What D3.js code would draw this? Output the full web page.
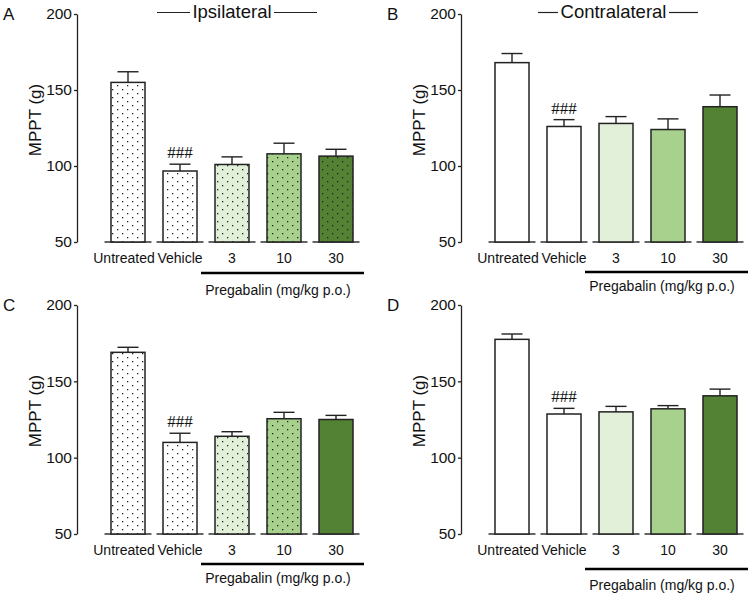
<!DOCTYPE html>
<html>
<head>
<meta charset="utf-8">
<script src="https://cdn.jsdelivr.net/npm/d3@7"></script>
<style>
  body { margin: 0; background: #fff; }
  text { font-family: Arial, "Liberation Sans", sans-serif; fill: #111; }
</style>
</head>
<body>
<div id="chart"></div>
<script>
// groups and tick labels
var groups = ["Untreated", "Vehicle", "3", "10", "30"];
var yTicks = [50, 100, 150, 200];
var barColors = ["#ffffff", "#ffffff", "#e2f0d9", "#a9d18e", "#548235"];

// mean and SEM per panel
var meanA = [155, 96.7, 101, 108, 106.5];
var semA  = [7, 4.5, 5, 7, 4.5];
var meanB = [168, 126, 128, 124, 139];
var semB  = [6, 4.5, 4.5, 7, 7.7];
var meanC = [169, 110, 114, 125.5, 125];
var semC  = [3.3, 6, 3, 4.2, 2.7];
var meanD = [177.5, 128.6, 130, 132, 140.5];
var semD  = [3.5, 3.7, 3.6, 2.1, 4.4];

// which bars are dotted in each panel
var dotsA = [true, true, true, true, true];
var dotsB = [false, false, false, false, false];
var dotsC = [true, true, true, true, false];
var dotsD = [false, false, false, false, false];

var svg = d3.select("#chart")
  .append("svg")
  .attr("width", 750)
  .attr("height", 595);

// dot pattern
var pat = svg.append("defs").append("pattern")
  .attr("id", "dots")
  .attr("patternUnits", "userSpaceOnUse")
  .attr("width", 10)
  .attr("height", 8);
pat.append("rect").attr("x", 2).attr("y", 1).attr("width", 1.3).attr("height", 1.3).attr("fill", "#222");
pat.append("rect").attr("x", 7).attr("y", 5).attr("width", 1.3).attr("height", 1.3).attr("fill", "#222");

var panels = [
  {letter: "A", ox: 77,  top: 14,  bottom: 242, mean: meanA, sem: semA, dots: dotsA,
   title: "Ipsilateral", tx: 232, l1: [157, 190], l2: [274, 317], lineY: 273, textY: 295},
  {letter: "B", ox: 461, top: 14,  bottom: 242, mean: meanB, sem: semB, dots: dotsB,
   title: "Contralateral", tx: 613.5, l1: [538, 558], l2: [669, 698], lineY: 272, textY: 291},
  {letter: "C", ox: 77,  top: 305, bottom: 534, mean: meanC, sem: semC, dots: dotsC,
   lineY: 564, textY: 583},
  {letter: "D", ox: 461, top: 305, bottom: 534, mean: meanD, sem: semD, dots: dotsD,
   lineY: 569, textY: 590}
];

panels.forEach(function(p) {
  var g = svg.append("g");

  var y = d3.scaleLinear().domain([50, 200]).range([p.bottom, p.top]);
  var x = d3.scaleBand().domain(groups).range([p.ox + 25, p.ox + 285]).paddingInner(0);
  var barW = 34, segW = 47, capW = 21;

  // y axis
  var yAxis = d3.axisLeft(y).tickValues(yTicks).tickSize(3).tickSizeOuter(0).tickPadding(2);
  var ax = g.append("g").attr("transform", "translate(" + p.ox + ",0)").call(yAxis);
  ax.select(".domain").attr("stroke", "#222").attr("stroke-width", 1.3);
  ax.selectAll(".tick line").attr("stroke", "#222").attr("stroke-width", 1.3);
  ax.selectAll(".tick text")
    .style("font-size", "15.5px")
    .style("font-family", "Arial, 'Liberation Sans', sans-serif")
    .attr("fill", "#111");

  // y label
  g.append("text")
    .attr("transform", "translate(" + (p.ox - 36) + "," + (p.top + 106) + ") rotate(-90)")
    .attr("text-anchor", "middle")
    .style("font-size", "17px")
    .text("MPPT (g)");

  // panel letter
  g.append("text")
    .attr("x", p.ox - 74)
    .attr("y", p.top + 6)
    .style("font-size", "17px")
    .text(p.letter);

  var data = groups.map(function(k, i) {
    return {key: k, mean: p.mean[i], sem: p.sem[i], color: barColors[i], dots: p.dots[i]};
  });

  // baseline segments under each bar
  g.selectAll(".seg").data(data).enter().append("line")
    .attr("x1", function(d) { return x(d.key) + x.bandwidth() / 2 - segW / 2; })
    .attr("x2", function(d) { return x(d.key) + x.bandwidth() / 2 + segW / 2; })
    .attr("y1", y(50)).attr("y2", y(50))
    .attr("stroke", "#333").attr("stroke-width", 1.5);

  // error bars
  g.selectAll(".err").data(data).enter().append("line")
    .attr("x1", function(d) { return x(d.key) + x.bandwidth() / 2; })
    .attr("x2", function(d) { return x(d.key) + x.bandwidth() / 2; })
    .attr("y1", function(d) { return y(d.mean); })
    .attr("y2", function(d) { return y(d.mean + d.sem); })
    .attr("stroke", "#222").attr("stroke-width", 1.4);
  g.selectAll(".cap").data(data).enter().append("line")
    .attr("x1", function(d) { return x(d.key) + x.bandwidth() / 2 - capW / 2; })
    .attr("x2", function(d) { return x(d.key) + x.bandwidth() / 2 + capW / 2; })
    .attr("y1", function(d) { return y(d.mean + d.sem); })
    .attr("y2", function(d) { return y(d.mean + d.sem); })
    .attr("stroke", "#222").attr("stroke-width", 1.4);

  // bars
  g.selectAll(".bar").data(data).enter().append("rect")
    .attr("x", function(d) { return x(d.key) + x.bandwidth() / 2 - barW / 2; })
    .attr("y", function(d) { return y(d.mean); })
    .attr("width", barW)
    .attr("height", function(d) { return y(50) - y(d.mean); })
    .attr("fill", function(d) { return d.color; });

  g.selectAll(".dotfill").data(data.filter(function(d) { return d.dots; })).enter().append("rect")
    .attr("x", function(d) { return x(d.key) + x.bandwidth() / 2 - barW / 2; })
    .attr("y", function(d) { return y(d.mean); })
    .attr("width", barW)
    .attr("height", function(d) { return y(50) - y(d.mean); })
    .attr("fill", "url(#dots)");

  g.selectAll(".outline").data(data).enter().append("rect")
    .attr("x", function(d) { return x(d.key) + x.bandwidth() / 2 - barW / 2; })
    .attr("y", function(d) { return y(d.mean); })
    .attr("width", barW)
    .attr("height", function(d) { return y(50) - y(d.mean); })
    .attr("fill", "none")
    .attr("stroke", "#222").attr("stroke-width", 1.5);

  // ### over vehicle
  var veh = data[1];
  g.append("text")
    .attr("x", x(veh.key) + x.bandwidth() / 2)
    .attr("y", y(veh.mean + veh.sem) - 6)
    .attr("text-anchor", "middle")
    .style("font-family", "'Liberation Serif', 'Times New Roman', serif")
    .style("font-size", "17px")
    .text("###");

  // category labels
  g.selectAll(".lab").data(data).enter().append("text")
    .attr("x", function(d, i) { return x(d.key) + x.bandwidth() / 2 + (i === 0 ? -4 : 0); })
    .attr("y", y(50) + 21)
    .attr("text-anchor", "middle")
    .style("font-size", "14px")
    .text(function(d) { return d.key; });

  // pregabalin bracket
  g.append("line")
    .attr("x1", x("3") - 5).attr("x2", x("30") + x.bandwidth() + 2)
    .attr("y1", p.lineY).attr("y2", p.lineY)
    .attr("stroke", "#000").attr("stroke-width", 2.5);
  g.append("text")
    .attr("x", p.ox + 201)
    .attr("y", p.textY)
    .attr("text-anchor", "middle")
    .style("font-size", "14px")
    .text("Pregabalin (mg/kg p.o.)");

  // side title
  if (p.title) {
    g.append("text")
      .attr("x", p.tx)
      .attr("y", 18)
      .attr("text-anchor", "middle")
      .style("font-size", "18.5px")
      .text(p.title);
    [p.l1, p.l2].forEach(function(l) {
      g.append("line")
        .attr("x1", l[0]).attr("x2", l[1])
        .attr("y1", 12.5).attr("y2", 12.5)
        .attr("stroke", "#222").attr("stroke-width", 1.2);
    });
  }
});
</script>
</body>
</html>
